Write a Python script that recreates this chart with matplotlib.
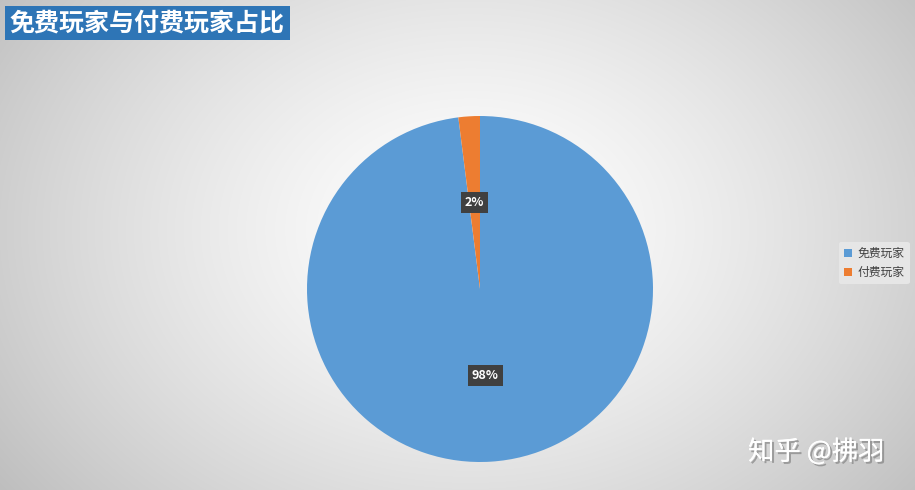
import numpy as np
import matplotlib
matplotlib.use("Agg")
import matplotlib.pyplot as plt
import matplotlib.patheffects as pe

plt.rcParams['font.family'] = ['Noto Sans CJK SC', 'DejaVu Sans']

# data
labels = ["免费玩家", "付费玩家"]
shares = [98, 2]
colors = ["#5B9BD5", "#ED7D31"]
title = "免费玩家与付费玩家占比"
watermark = "知乎 @拂羽"

W, H = 915, 490
fig = plt.figure(figsize=(W / 100, H / 100), dpi=100)

# radial grey background
bg = fig.add_axes([0, 0, 1, 1], zorder=0)
yy, xx = np.mgrid[0:H, 0:W]
d = np.hypot((xx - 470) / 560.0, (yy - 230) / 420.0)
shade = 1.0 - 0.24 * np.clip(d, 0, 1.2) ** 1.4
bg.imshow(np.dstack([shade] * 3), extent=[0, W, H, 0], aspect="auto")
bg.set_xlim(0, W)
bg.set_ylim(H, 0)
bg.axis("off")

# pie
r = 173
cx, cy = 480, 289
ax = fig.add_axes([(cx - r) / W, (H - cy - r) / H, 2 * r / W, 2 * r / H], zorder=1)
wedges, texts, autotexts = ax.pie(
    shares, colors=colors, startangle=90, counterclock=False,
    autopct="%1.0f%%", pctdistance=0.5,
    wedgeprops=dict(linewidth=0),
    textprops=dict(color="white", fontsize=9, fontweight="bold"),
)
for t in autotexts:
    t.set_bbox(dict(boxstyle="square,pad=0.3", fc="#404040", ec="none"))
ax.set_xlim(-1, 1)
ax.set_ylim(-1, 1)
ax.set_aspect("equal")

# title
fig.text(10 / W, 1 - 23 / H, title, fontsize=18, fontweight="bold", color="white",
         va="center", ha="left",
         bbox=dict(boxstyle="square,pad=0.2", fc="#2E75B6", ec="none"))

# legend
leg = fig.legend(wedges, labels, loc="center left", bbox_to_anchor=(833 / W, 1 - 263 / H),
                 frameon=True, fontsize=8.5, handlelength=0.7, handleheight=0.7,
                 handletextpad=0.4, borderpad=0.45, labelspacing=0.5)
leg.get_frame().set_facecolor("#E6E6E6")
leg.get_frame().set_edgecolor("none")
leg.get_frame().set_alpha(1)
for t in leg.get_texts():
    t.set_color("#404040")

# watermark
fig.text(748 / W, 1 - 452 / H, watermark, fontsize=19, color="white", va="center", ha="left",
         path_effects=[pe.withSimplePatchShadow(offset=(1.5, -1.5), shadow_rgbFace="#777777", alpha=0.6),
                       pe.Normal()])

fig.savefig("out.png", dpi=100)
